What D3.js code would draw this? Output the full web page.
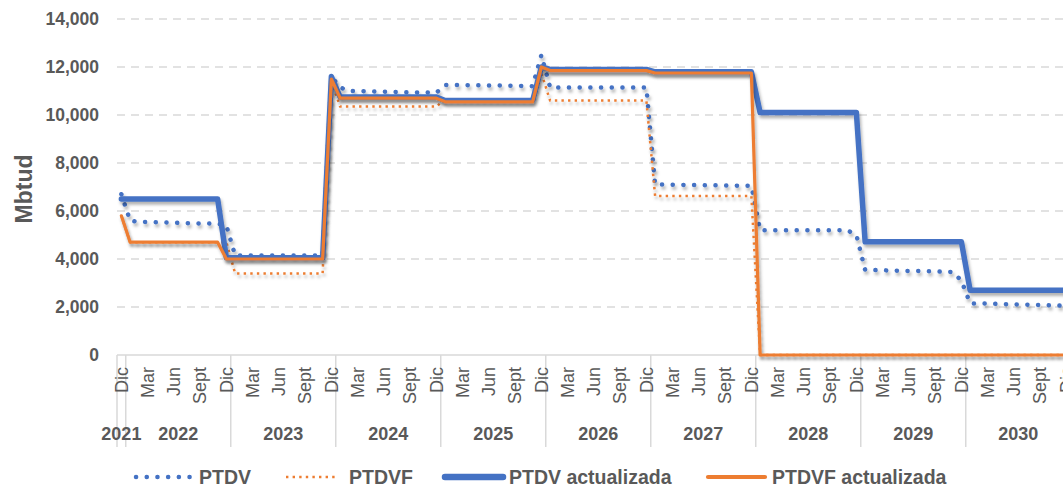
<!DOCTYPE html>
<html lang="es">
<head>
  <meta charset="UTF-8">
  <title>PTDV vs PTDVF</title>
  <script src="https://d3js.org/d3.v7.min.js"></script>
  <style>
    body { margin: 0; background: #fff; }
    svg { display: block; font-family: "Liberation Sans", Arial, sans-serif; }
    .grid line { stroke: #d9d9d9; stroke-width: 1.5; stroke-dasharray: 8 6; }
    .ytick { font-size: 17.5px; font-weight: bold; fill: #595959; }
    .mlabel { font-size: 18px; fill: #595959; }
    .ylabel { font-size: 23px; font-weight: bold; fill: #595959; }
    .legend text { font-size: 19.5px; font-weight: bold; fill: #595959; }
  </style>
</head>
<body>
  <svg width="1063" height="487"></svg>

  <script>
    // Categorias: Dic 2021 y luego meses 2022-2030
    const years = [2022, 2023, 2024, 2025, 2026, 2027, 2028, 2029, 2030];
    const monthNames = ["Ene", "Feb", "Mar", "Abr", "May", "Jun", "Jul", "Ago", "Sept", "Oct", "Nov", "Dic"];
    const shownMonths = ["Dic", "Mar", "Jun", "Sept"];
    const yTicks = [0, 2000, 4000, 6000, 8000, 10000, 12000, 14000];

    // Series (Mbtud), primer valor = Dic 2021, luego una fila por año
    const ptdv = [
      6700,
      5600, 5550, 5540, 5530, 5520, 5510, 5500, 5490, 5480, 5480, 5470, 5400,
      4150, 4150, 4150, 4150, 4150, 4150, 4150, 4150, 4150, 4150, 4150, 11600,
      11150, 11000, 11000, 10990, 10980, 10970, 10960, 10950, 10950, 10940, 10940, 10930,
      11250, 11250, 11250, 11240, 11240, 11230, 11230, 11220, 11220, 11210, 11200, 12500,
      11150, 11150, 11150, 11150, 11150, 11150, 11150, 11150, 11150, 11150, 11150, 11150,
      7100, 7100, 7090, 7090, 7080, 7080, 7070, 7070, 7060, 7060, 7050, 7050,
      5200, 5200, 5200, 5200, 5200, 5200, 5200, 5200, 5200, 5200, 5190, 5000,
      3550, 3540, 3530, 3520, 3510, 3500, 3500, 3490, 3480, 3470, 3460, 3100,
      2150, 2150, 2140, 2130, 2120, 2110, 2100, 2090, 2080, 2070, 2060, 2050
    ];
    const ptdvf = [
      5800,
      4700, 4700, 4700, 4700, 4700, 4700, 4700, 4700, 4700, 4700, 4700, 4700,
      3400, 3400, 3400, 3400, 3400, 3400, 3400, 3400, 3400, 3400, 3400, 11400,
      10350, 10350, 10350, 10350, 10350, 10350, 10350, 10350, 10350, 10350, 10350, 10350,
      10650, 10650, 10650, 10650, 10650, 10650, 10650, 10650, 10650, 10650, 10650, 11750,
      10600, 10600, 10600, 10600, 10600, 10600, 10600, 10600, 10600, 10600, 10600, 10600,
      6620, 6620, 6620, 6620, 6620, 6620, 6620, 6620, 6620, 6620, 6620, 6620,
      0, 0, 0, 0, 0, 0, 0, 0, 0, 0, 0, 0,
      0, 0, 0, 0, 0, 0, 0, 0, 0, 0, 0, 0,
      0, 0, 0, 0, 0, 0, 0, 0, 0, 0, 0, 0
    ];
    const ptdvAct = [
      6500,
      6500, 6500, 6500, 6500, 6500, 6500, 6500, 6500, 6500, 6500, 6500, 4050,
      4050, 4050, 4050, 4050, 4050, 4050, 4050, 4050, 4050, 4050, 4050, 11600,
      10750, 10750, 10750, 10750, 10750, 10750, 10750, 10750, 10750, 10750, 10750, 10750,
      10600, 10600, 10600, 10600, 10600, 10600, 10600, 10600, 10600, 10600, 10600, 12000,
      11900, 11900, 11900, 11900, 11900, 11900, 11900, 11900, 11900, 11900, 11900, 11900,
      11800, 11800, 11800, 11800, 11800, 11800, 11800, 11800, 11800, 11800, 11800, 11800,
      10100, 10100, 10100, 10100, 10100, 10100, 10100, 10100, 10100, 10100, 10100, 10100,
      4720, 4720, 4720, 4720, 4720, 4720, 4720, 4720, 4720, 4720, 4720, 4720,
      2700, 2700, 2700, 2700, 2700, 2700, 2700, 2700, 2700, 2700, 2700, 2700
    ];
    const ptdvfAct = [
      5800,
      4700, 4700, 4700, 4700, 4700, 4700, 4700, 4700, 4700, 4700, 4700, 4000,
      4000, 4000, 4000, 4000, 4000, 4000, 4000, 4000, 4000, 4000, 4000, 11500,
      10700, 10700, 10700, 10700, 10700, 10700, 10700, 10700, 10700, 10700, 10700, 10700,
      10550, 10550, 10550, 10550, 10550, 10550, 10550, 10550, 10550, 10550, 10550, 12000,
      11850, 11850, 11850, 11850, 11850, 11850, 11850, 11850, 11850, 11850, 11850, 11850,
      11750, 11750, 11750, 11750, 11750, 11750, 11750, 11750, 11750, 11750, 11750, 11750,
      0, 0, 0, 0, 0, 0, 0, 0, 0, 0, 0, 0,
      0, 0, 0, 0, 0, 0, 0, 0, 0, 0, 0, 0,
      0, 0, 0, 0, 0, 0, 0, 0, 0, 0, 0, 0
    ];

    const categories = [{ m: "Dic", y: 2021 }];
    years.forEach(y => monthNames.forEach(m => categories.push({ m, y })));

    const series = [
      { name: "PTDV", values: ptdv, color: "#4472C4", width: 4.5, dash: "0.1 10.6", cap: "round" },
      { name: "PTDVF", values: ptdvf, color: "#ED7D31", width: 2.5, dash: "2.4 4.2", cap: "butt" },
      { name: "PTDV actualizada", values: ptdvAct, color: "#4472C4", width: 5.5, dash: null, cap: "round" },
      { name: "PTDVF actualizada", values: ptdvfAct, color: "#ED7D31", width: 3.2, dash: null, cap: "round" }
    ];

    const svg = d3.select("svg");
    const plotLeft = 117, plotTop = 19, plotBottom = 355;

    const x = d3.scaleBand()
      .domain(d3.range(categories.length))
      .range([plotLeft, plotLeft + categories.length * 8.75]);
    const cx = i => x(i) + x.bandwidth() / 2;

    const y = d3.scaleLinear().domain([0, 14000]).range([plotBottom, plotTop]);

    // shadow like the office chart
    const defs = svg.append("defs");
    defs.append("filter")
      .attr("id", "shadow")
      .attr("filterUnits", "userSpaceOnUse")
      .attr("x", 0).attr("y", 0).attr("width", 1100).attr("height", 487)
      .append("feDropShadow")
      .attr("dx", 1.5).attr("dy", 3).attr("stdDeviation", 1.6)
      .attr("flood-color", "#000").attr("flood-opacity", 0.3);

    // horizontal gridlines
    svg.append("g")
      .attr("class", "grid")
      .selectAll("line")
      .data(yTicks.filter(d => d > 0))
      .join("line")
      .attr("x1", plotLeft).attr("x2", 1063)
      .attr("y1", d => y(d)).attr("y2", d => y(d));

    // y tick labels
    svg.append("g")
      .selectAll("text")
      .data(yTicks)
      .join("text")
      .attr("class", "ytick")
      .attr("x", 99)
      .attr("y", d => y(d))
      .attr("dy", "0.35em")
      .attr("text-anchor", "end")
      .text(d3.format(","));

    svg.append("text")
      .attr("class", "ylabel")
      .attr("transform", `translate(24,${(plotTop + plotBottom) / 2 + 2}) rotate(-90)`)
      .attr("text-anchor", "middle")
      .attr("dy", "0.35em")
      .text("Mbtud");

    // category axis
    const axis = svg.append("g");
    axis.append("line")
      .attr("x1", plotLeft).attr("x2", 1063)
      .attr("y1", plotBottom).attr("y2", plotBottom)
      .attr("stroke", "#d9d9d9").attr("stroke-width", 1.5);

    // separators: left edge and after each Dic
    const seps = [x(0)].concat(categories.map((c, i) => c.m === "Dic" ? x(i) + x.bandwidth() : null).filter(v => v !== null));
    axis.selectAll("line.sep")
      .data(seps)
      .join("line")
      .attr("class", "sep")
      .attr("x1", d => d).attr("x2", d => d)
      .attr("y1", plotBottom).attr("y2", 447)
      .attr("stroke", "#d9d9d9").attr("stroke-width", 1.5);

    axis.selectAll("text.mlabel")
      .data(categories.map((c, i) => ({ ...c, i })).filter(c => shownMonths.includes(c.m)))
      .join("text")
      .attr("class", "mlabel")
      .attr("transform", d => `translate(${cx(d.i)},367) rotate(-90)`)
      .attr("text-anchor", "end")
      .attr("dy", "0.35em")
      .text(d => d.m);

    const yearGroups = d3.groups(categories.map((c, i) => ({ ...c, i })), d => d.y);
    axis.selectAll("text.year")
      .data(yearGroups)
      .join("text")
      .attr("class", "ytick year")
      .attr("x", ([, arr]) => (x(arr[0].i) + x(arr[arr.length - 1].i) + x.bandwidth()) / 2)
      .attr("y", 440)
      .attr("text-anchor", "middle")
      .style("font-size", "18px")
      .text(([yr]) => yr);

    // lines
    const line = d3.line()
      .x((d, i) => cx(i))
      .y(d => y(d));

    svg.append("g")
      .selectAll("path")
      .data(series)
      .join("path")
      .attr("d", d => line(d.values))
      .attr("fill", "none")
      .attr("stroke", d => d.color)
      .attr("stroke-width", d => d.width)
      .attr("stroke-dasharray", d => d.dash)
      .attr("stroke-linecap", d => d.cap)
      .attr("stroke-linejoin", "round")
      .attr("filter", "url(#shadow)");

    // legend
    const legendPos = [
      { x0: 136, x1: 190, tx: 199 },
      { x0: 286, x1: 338, tx: 349 },
      { x0: 445, x1: 503, tx: 509 },
      { x0: 708, x1: 765, tx: 772 }
    ];
    const legend = svg.append("g").attr("class", "legend");
    const item = legend.selectAll("g")
      .data(series)
      .join("g");
    item.append("line")
      .attr("x1", (d, i) => legendPos[i].x0)
      .attr("x2", (d, i) => legendPos[i].x1)
      .attr("y1", 477).attr("y2", 477)
      .attr("stroke", d => d.color)
      .attr("stroke-width", d => d.dash ? d.width : d.width + 1)
      .attr("stroke-dasharray", d => d.dash)
      .attr("stroke-linecap", d => d.cap);
    item.append("text")
      .attr("x", (d, i) => legendPos[i].tx)
      .attr("y", 484)
      .text(d => d.name);
  </script>
</body>
</html>
